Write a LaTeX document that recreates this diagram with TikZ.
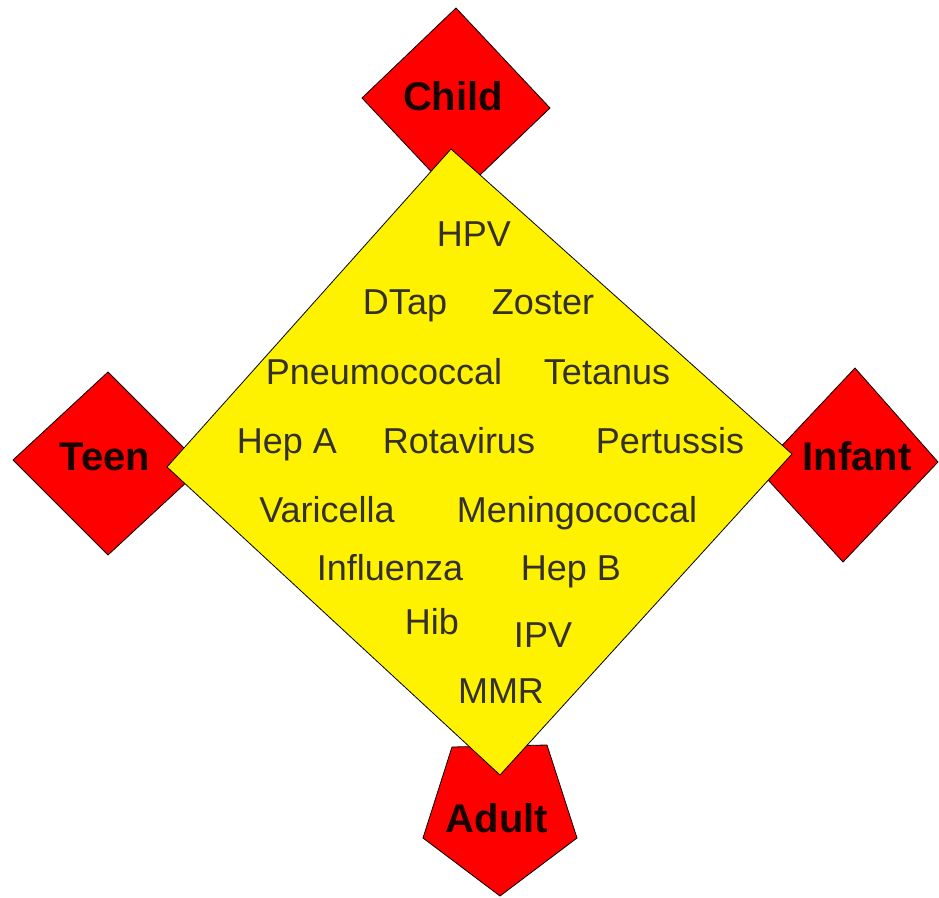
\documentclass[tikz,border=0pt]{standalone}
\usepackage{fontspec}
\setmainfont{Liberation Sans}
\usepackage{tikz}

\begin{document}
\begin{tikzpicture}[x=0.75pt,y=-0.75pt,
  redbox/.style={fill=red,draw=black,line width=0.6pt,line join=round},
  yelbox/.style={fill=yellow,draw=black,line width=0.6pt,line join=round},
  agelbl/.style={anchor=base,inner sep=0pt,font=\fontsize{30}{34}\selectfont\bfseries,text=black!90!red},
  vac/.style={anchor=base,inner sep=0pt,font=\fontsize{27}{30}\selectfont,text=black!92!yellow}]
\useasboundingbox (0,0) rectangle (939,897);
% age groups
\draw[redbox] (456,8) -- (550,108) -- (456,198) -- (362,98) -- cycle;
\draw[redbox] (108,372) -- (203,467) -- (108,555) -- (13,460) -- cycle;
\draw[redbox] (855,368) -- (938,462) -- (843,562) -- (759,470) -- cycle;
\draw[redbox] (452,747) -- (547,745) -- (577,838) -- (500,896) -- (423,838) -- cycle;
% vaccines
\draw[yelbox] (451,149) -- (792,454) -- (500,775) -- (167,467) -- cycle;
\node[agelbl] (child) at (453,110) {Child};
\node[agelbl] (teen) at (105,470) {Teen};
\node[agelbl] (infant) at (857,470) {Infant};
\node[agelbl] (adult) at (497,832) {Adult};
\foreach \x/\y/\t [count=\i] in %
{474/246/HPV,405/314/DTap,543/314/Zoster,384/384/Pneumococcal,607/384/Tetanus,
 287/453/Hep A,459/453/Rotavirus,670/453/Pertussis,327/522/Varicella,577/522/Meningococcal,
 390/580/Influenza,571/580/Hep B,432/634/Hib,543/647/IPV,501/703/MMR} {
   \node[vac] (vac\i) at (\x,\y) {\t};
}
\end{tikzpicture}
\end{document}
